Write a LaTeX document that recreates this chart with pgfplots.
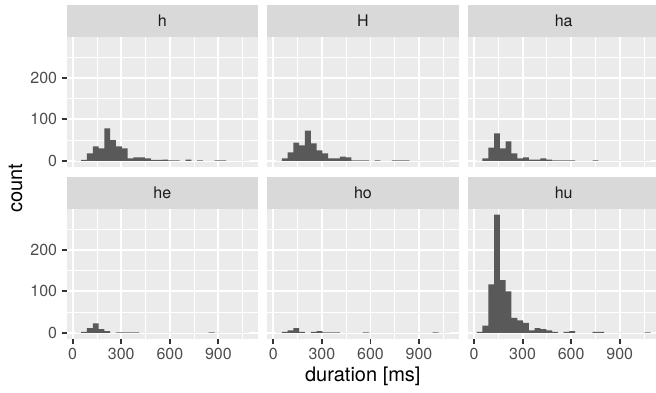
\documentclass[border=0pt]{standalone}
\usepackage{pgfplots}
\usepackage{pgfplotstable}
\pgfplotsset{compat=1.18}
\usepackage{fontspec}
\setmainfont{TeX Gyre Heros}
\definecolor{panelbg}{HTML}{EBEBEB}
\definecolor{stripbg}{HTML}{D9D9D9}
\definecolor{barc}{HTML}{595959}
\definecolor{labc}{HTML}{4D4D4D}
\definecolor{tickc}{HTML}{333333}
\definecolor{stript}{HTML}{1A1A1A}
\pgfplotstableread{
edge h H ha he ho hu
16.7 0 0 0 0 0 2
52.5 2 6 6 2 2 17
88.3 18 20 32 11 6 117
124.1 35 44 66 23 11 285
159.9 30 37 30 9 2 127
195.7 78 73 47 4 0 100
231.5 50 42 18 0 2 36
267.3 35 25 6 1 4 30
303.1 30 18 8 1 1 24
338.9 6 6 3 1 1 6
374.7 8 6 3 1 1 11
410.5 8 10 6 0 0 9
446.3 6 8 3 0 0 6
482.1 2 1 1 0 0 2
517.9 2 1 1 0 0 0
553.7 3 1 1 0 1 2
589.5 1 0 1 0 0 4
625.3 1 1 0 0 0 0
661.1 0 0 0 0 0 0
696.9 3 0 0 0 0 0
732.7 0 1 1 0 0 2
768.5 1 1 0 0 0 2
804.3 0 1 0 0 0 0
840.1 0 0 0 1 0 0
875.9 1 0 0 0 0 0
911.7 1 0 0 0 0 0
947.5 0 0 0 0 0 0
983.3 0 0 0 0 1 0
1019.1 0 0 0 0 0 0
1054.9 0 0 0 0 0 1
1090.7 0 0 0 0 0 0
}\durtable
\pgfplotsset{
  facet/.style={
    scale only axis, width=191.3pt, height=130pt, anchor=south west,
    xmin=-37, xmax=1144.4, ymin=-14.25, ymax=299.25,
    axis background/.style={fill=panelbg},
    axis line style={draw=none},
    grid=both,
    major grid style={white, line width=1.9pt},
    minor grid style={white, line width=0.95pt},
    xtick={0,300,600,900}, minor xtick={150,450,750,1050},
    ytick={0,100,200}, minor ytick={50,150,250},
    tick align=outside, major tick length=5pt, minor tick length=0pt,
    tick style={draw=tickc, line width=1.9pt},
    xtick pos=left, ytick pos=left,
    tick label style={font=\fontsize{16}{19}\selectfont, text=labc, inner sep=4.4pt},
    /pgf/number format/assume math mode=true,
  },
  toprow/.style={xmajorticks=false, xticklabels={}},
  inner/.style={ymajorticks=false, yticklabels={}},
  bars/.style={ybar interval, fill=barc, draw=none},
}
\begin{document}
\begin{tikzpicture}
\useasboundingbox (0pt,0pt) rectangle (656pt,392pt);
% top row
\begin{axis}[facet, toprow, at={(66.7pt,225.3pt)}]
\addplot[bars] table[x=edge, y=h] {\durtable};
\end{axis}
\begin{axis}[facet, toprow, inner, at={(267.3pt,225.3pt)}]
\addplot[bars] table[x=edge, y=H] {\durtable};
\end{axis}
\begin{axis}[facet, toprow, inner, at={(468pt,225.3pt)}]
\addplot[bars] table[x=edge, y=ha] {\durtable};
\end{axis}
% bottom row
\begin{axis}[facet, at={(66.7pt,53.3pt)}]
\addplot[bars] table[x=edge, y=he] {\durtable};
\end{axis}
\begin{axis}[facet, inner, at={(267.3pt,53.3pt)}]
\addplot[bars] table[x=edge, y=ho] {\durtable};
\end{axis}
\begin{axis}[facet, inner, at={(468pt,53.3pt)}]
\addplot[bars] table[x=edge, y=hu] {\durtable};
\end{axis}
% strips
\foreach \xl/\lab in {66.7/h, 267.3/H, 468/ha} {
  \fill[stripbg] (\xl pt,355.3pt) rectangle ++(191.3pt,31.7pt);
  \node[anchor=base, text=stript, font=\fontsize{16}{19}\selectfont, inner sep=0pt] at (\xl pt+95.65pt,365.4pt) {\lab};
}
\foreach \xl/\lab in {66.7/he, 267.3/ho, 468/hu} {
  \fill[stripbg] (\xl pt,183.3pt) rectangle ++(191.3pt,32pt);
  \node[anchor=base, text=stript, font=\fontsize{16}{19}\selectfont, inner sep=0pt] at (\xl pt+95.65pt,193.7pt) {\lab};
}
% axis titles
\node[rotate=90, anchor=base, font=\fontsize{20}{24}\selectfont, inner sep=0pt] at (22pt,204pt) {count};
\node[anchor=base, font=\fontsize{20}{24}\selectfont, inner sep=0pt] at (362.8pt,10.5pt) {duration [ms]};
\end{tikzpicture}
\end{document}
